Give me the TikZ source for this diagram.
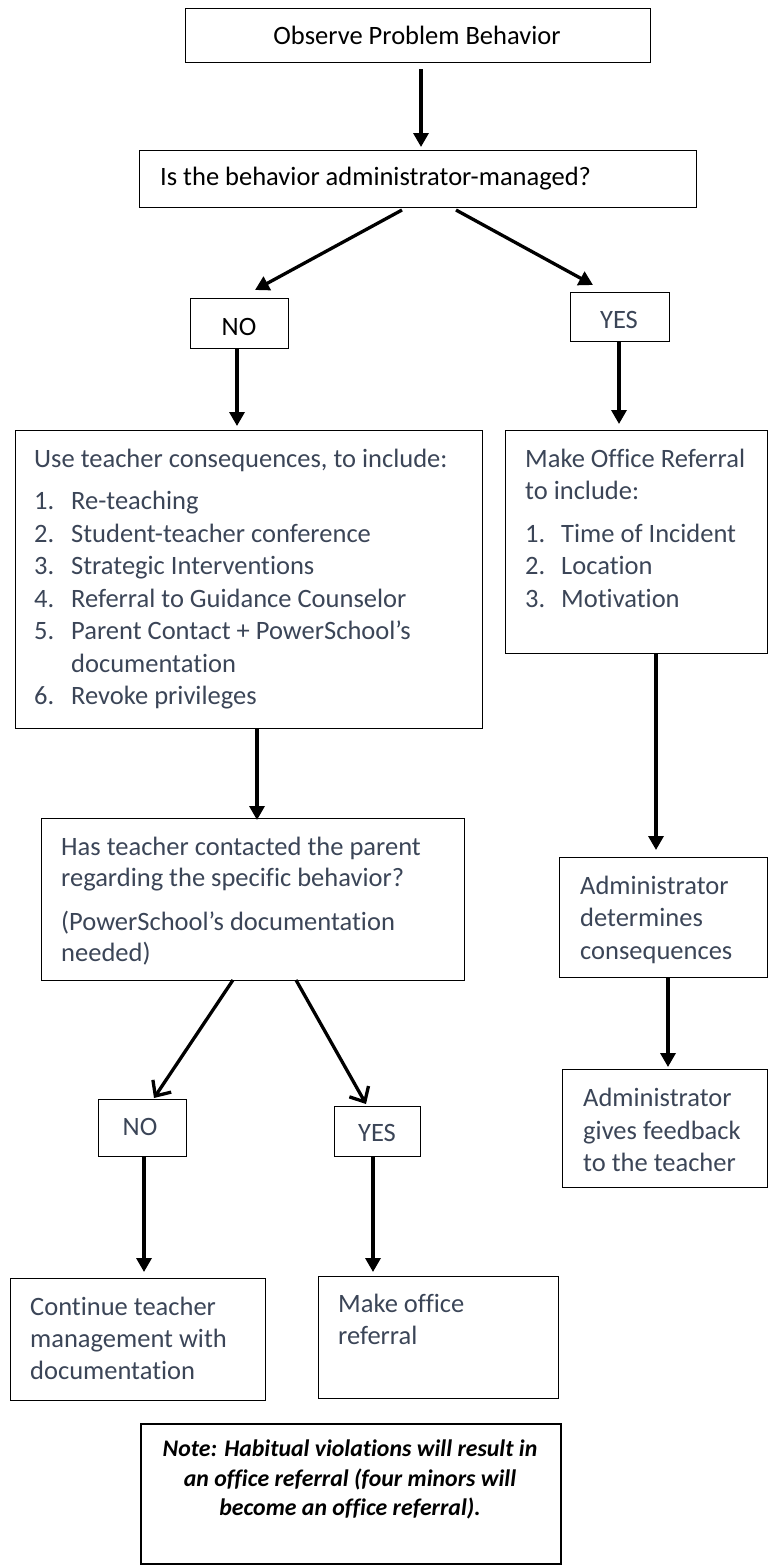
\documentclass[tikz,border=0pt]{standalone}
\usepackage{fontspec}
\setmainfont{Carlito}[Ligatures=NoCommon]
\usetikzlibrary{arrows.meta}
\definecolor{txtc}{HTML}{3B4557}
\tikzset{
  box/.style={draw=black, line width=1.3pt, inner sep=0pt, anchor=north west},
  notebox/.style={draw=black, line width=2.2pt, inner sep=0pt, anchor=north west},
  lbl/.style={anchor=base west, inner sep=0pt, text=txtc, font=\fontsize{26.5}{32.5}\selectfont},
  lblk/.style={lbl, text=black},
  clbl/.style={lbl, anchor=base},
  notelbl/.style={anchor=base, inner sep=0pt, text=black, font=\fontsize{23.8}{29}\selectfont\bfseries\itshape},
  arr/.style={line width=3.3pt, -{Triangle[width=15pt,length=14pt]}},
  barb/.style={line width=3.3pt, -{Straight Barb[width=22pt,length=12pt,line width=3.3pt]}}
}
\newcommand\mkbox[6][box]{\node[#1, minimum width=#5pt-#3pt, minimum height=#6pt-#4pt] (#2) at (#3,#4) {};}
\begin{document}
\begin{tikzpicture}[x=1pt,y=-1pt]
\useasboundingbox (0,0) rectangle (768,1566);
% boxes
\mkbox{b1}{185}{8}{650}{62}
\mkbox{b2}{139}{150}{696}{207}
\mkbox{no1}{190}{298}{288}{348}
\mkbox{yes1}{570}{292}{669}{341}
\mkbox{b3}{15}{430}{482}{728}
\mkbox{b4}{505}{430}{767}{653}
\mkbox{b5}{41}{818}{464}{980}
\mkbox{b6}{559}{857}{767}{977}
\mkbox{b7}{562}{1069}{767}{1187}
\mkbox{no2}{98}{1099}{186}{1156}
\mkbox{yes2}{334}{1106}{420}{1156}
\mkbox{b8}{10}{1278}{265}{1400}
\mkbox{b9}{318}{1276}{558}{1398}
\mkbox[notebox]{note}{140}{1423}{560}{1563}
% texts
\node[lblk, anchor=base] (t1) at (417,44) {Observe Problem Behavior};
\node[lblk] (t2) at (160,185) {Is the behavior administrator-managed?};
\node[lblk, anchor=base] (tno1) at (239,335) {NO};
\node[clbl] (tyes1) at (619,328) {YES};
\node[lbl] (t3a) at (34,467) {Use teacher consequences, to include:};
\node[lbl] (t3n1) at (34,509.5) {1.};
\node[lbl] (t3i1) at (71,509.5) {Re-teaching};
\node[lbl] (t3n2) at (34,542) {2.};
\node[lbl] (t3i2) at (71,542) {Student-teacher conference};
\node[lbl] (t3n3) at (34,574.5) {3.};
\node[lbl] (t3i3) at (71,574.5) {Strategic Interventions};
\node[lbl] (t3n4) at (34,607) {4.};
\node[lbl] (t3i4) at (71,607) {Referral to Guidance Counselor};
\node[lbl] (t3n5) at (34,639.5) {5.};
\node[lbl] (t3i5) at (71,639.5) {Parent Contact + PowerSchool’s};
\node[lbl] (t3i5b) at (71,672) {documentation};
\node[lbl] (t3n6) at (34,704.5) {6.};
\node[lbl] (t3i6) at (71,704.5) {Revoke privileges};
\node[lbl] (t4a) at (525,467) {Make Office Referral};
\node[lbl] (t4b) at (525,499.5) {to include:};
\node[lbl] (t4n1) at (525,542) {1.};
\node[lbl] (t4i1) at (561,542) {Time of Incident};
\node[lbl] (t4n2) at (525,574.5) {2.};
\node[lbl] (t4i2) at (561,574.5) {Location};
\node[lbl] (t4n3) at (525,607) {3.};
\node[lbl] (t4i3) at (561,607) {Motivation};
\node[lbl] (t5a) at (61,855) {Has teacher contacted the parent};
\node[lbl] (t5b) at (61,886.5) {regarding the specific behavior?};
\node[lbl] (t5c) at (61,930) {(PowerSchool’s documentation};
\node[lbl] (t5d) at (61,961.5) {needed)};
\node[lbl] (t6a) at (580,894) {Administrator};
\node[lbl] (t6b) at (580,926.5) {determines};
\node[lbl] (t6c) at (580,959) {consequences};
\node[lbl] (t7a) at (583,1106.5) {Administrator};
\node[lbl] (t7b) at (583,1139) {gives feedback};
\node[lbl] (t7c) at (583,1171.5) {to the teacher};
\node[clbl] (tno2) at (140,1135) {NO};
\node[clbl] (tyes2) at (377,1141.5) {YES};
\node[lbl] (t8a) at (30,1315) {Continue teacher};
\node[lbl] (t8b) at (30,1347) {management with};
\node[lbl] (t8c) at (30,1379) {documentation};
\node[lbl] (t9a) at (338,1312) {Make office};
\node[lbl] (t9b) at (338,1344) {referral};
\node[notelbl] (tn1) at (350,1456.5) {Note: Habitual violations will result in};
\node[notelbl] (tn2) at (350,1486) {an office referral (four minors will};
\node[notelbl] (tn3) at (350,1515) {become an office referral).};
% connector end points
\coordinate (a1s) at (421,69);   \coordinate (a1e) at (421,147);
\coordinate (a2s) at (402,210);  \coordinate (a2e) at (255,290);
\coordinate (a3s) at (456,210);  \coordinate (a3e) at (593,285);
\coordinate (a4e) at (237,426);
\coordinate (a5e) at (619,424);
\coordinate (a6s) at (257,728);  \coordinate (a6e) at (257,820);
\coordinate (a7s) at (656,653);  \coordinate (a7e) at (656,850);
\coordinate (a8s) at (668,977);  \coordinate (a8e) at (668,1067);
\coordinate (a9s) at (233,980);  \coordinate (a9e) at (154,1098);
\coordinate (a10s) at (296,980); \coordinate (a10e) at (366,1104);
\coordinate (a11e) at (144,1272);
\coordinate (a12e) at (373,1272);
% connectors
\draw[arr] (a1s) -- (a1e);
\draw[arr] (a2s) -- (a2e);
\draw[arr] (a3s) -- (a3e);
\draw[arr] (no1.south -| a4e) -- (a4e);
\draw[arr] (yes1.south -| a5e) -- (a5e);
\draw[arr] (a6s) -- (a6e);
\draw[arr] (a7s) -- (a7e);
\draw[arr] (a8s) -- (a8e);
\draw[barb] (a9s) -- (a9e);
\draw[barb] (a10s) -- (a10e);
\draw[arr] (no2.south -| a11e) -- (a11e);
\draw[arr] (yes2.south -| a12e) -- (a12e);
\end{tikzpicture}
\end{document}
